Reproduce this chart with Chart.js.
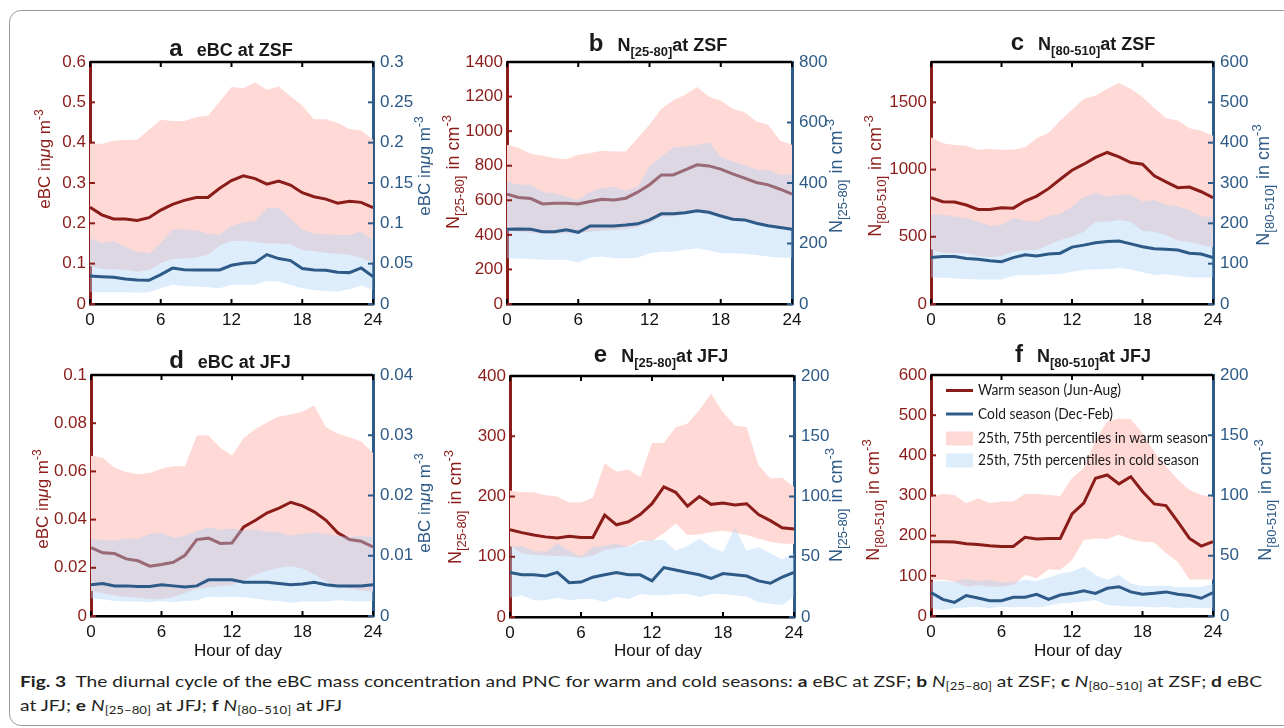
<!DOCTYPE html>
<html>
<head>
<meta charset="utf-8">
<script src="https://cdn.jsdelivr.net/npm/chart.js@4.4.1/dist/chart.umd.min.js"></script>
<style>
  html, body { margin:0; padding:0; background:#fff; }
  body { width:1284px; height:728px; position:relative; overflow:hidden; }
  .frame { position:absolute; left:9px; top:10px; width:1300px; height:714px; border:1.5px solid #9a9a9a; border-radius:12px; }
  canvas { position:absolute; }
  .cap { position:absolute; left:20px; white-space:nowrap; font-family:"Liberation Sans Narrow", Lato, sans-serif; font-size:16px; line-height:20px; color:#231f20; transform-origin:0 0; }
  .cap sub { font-size:11px; vertical-align:-3px; line-height:0; }
</style>
</head>
<body>
<div class="frame"></div>
<div class="cap" id="cap1" style="top:671px"><b>Fig. 3</b>&nbsp; The diurnal cycle of the eBC mass concentration and PNC for warm and cold seasons: <b>a</b> eBC at ZSF; <b>b</b> <i>N</i><sub>[25–80]</sub> at ZSF; <b>c</b> <i>N</i><sub>[80–510]</sub> at ZSF; <b>d</b> eBC</div>
<div class="cap" id="cap2" style="top:695px">at JFJ; <b>e</b> <i>N</i><sub>[25–80]</sub> at JFJ; <b>f</b> <i>N</i><sub>[80–510]</sub> at JFJ</div>
<script>
// hour of day (x axis)
const hours = [0,1,2,3,4,5,6,7,8,9,10,11,12,13,14,15,16,17,18,19,20,21,22,23,24];
const xTicks = [0,6,12,18,24];

// a  eBC at ZSF
const ebcZsfWarm    = [0.240,0.221,0.211,0.211,0.207,0.214,0.233,0.247,0.257,0.264,0.264,0.287,0.306,0.318,0.311,0.297,0.305,0.295,0.276,0.266,0.260,0.250,0.255,0.252,0.239];
const ebcZsfWarm75  = [0.399,0.397,0.405,0.407,0.407,0.432,0.457,0.454,0.454,0.463,0.467,0.502,0.538,0.535,0.550,0.531,0.539,0.515,0.492,0.458,0.458,0.449,0.434,0.430,0.407];
const ebcZsfWarm25  = [0.094,0.087,0.086,0.084,0.080,0.084,0.101,0.112,0.113,0.115,0.122,0.145,0.156,0.157,0.154,0.150,0.150,0.148,0.134,0.131,0.127,0.124,0.122,0.114,0.103];
const ebcZsfCold    = [0.0348,0.0339,0.0331,0.031,0.0298,0.0294,0.0365,0.0445,0.0426,0.0422,0.0422,0.0422,0.048,0.0505,0.0513,0.0612,0.0563,0.0538,0.0439,0.0422,0.0418,0.0393,0.0389,0.0447,0.0339];
const ebcZsfCold75  = [0.0815,0.0755,0.078,0.071,0.065,0.063,0.0755,0.0925,0.0925,0.091,0.0875,0.086,0.097,0.101,0.103,0.119,0.119,0.106,0.092,0.0875,0.0865,0.0855,0.0855,0.09,0.0795];
const ebcZsfCold25  = [0.0150,0.0145,0.0145,0.0145,0.014,0.0145,0.0194,0.0240,0.0223,0.0215,0.0207,0.0194,0.0240,0.0240,0.0240,0.0285,0.0280,0.0236,0.0194,0.0174,0.0161,0.0153,0.0182,0.0228,0.0174];
const ebcZsfTicksL  = [0,0.1,0.2,0.3,0.4,0.5,0.6];
const ebcZsfTicksR  = [0,0.05,0.1,0.15,0.2,0.25,0.3];

// b  N[25-80] at ZSF
const n25ZsfWarm    = [635,616,610,579,583,583,579,593,606,602,612,647,690,747,747,776,805,799,780,753,728,703,689,664,635];
const n25ZsfWarm75  = [921,902,869,857,844,838,863,873,886,882,882,960,1037,1130,1178,1211,1255,1201,1176,1130,1110,1056,1037,944,921];
const n25ZsfWarm25  = [424,418,412,405,407,409,409,418,424,428,432,445,467,505,506,520,528,520,505,490,482,467,458,444,432];
const n25ZsfCold    = [247,248,247,239,239,245,237,258,258,258,261,265,278,298,298,302,308,303,291,280,278,267,259,253,247];
const n25ZsfCold75  = [405,394,394,370,366,355,344,372,383,388,374,388,455,488,517,521,526,534,488,471,460,444,444,427,429];
const n25ZsfCold25  = [151,150,150,146,146,146,137,154,157,151,151,153,168,173,173,179,184,177,168,168,166,162,157,153,153];
const n25ZsfTicksL  = [0,200,400,600,800,1000,1200,1400];
const n25ZsfTicksR  = [0,200,400,600,800];

// c  N[80-510] at ZSF
const n80ZsfWarm    = [791,761,758,736,703,703,716,713,766,803,858,928,995,1040,1090,1127,1095,1052,1040,953,908,865,870,835,791];
const n80ZsfWarm75  = [1240,1195,1182,1177,1147,1152,1147,1147,1165,1232,1272,1364,1444,1526,1551,1601,1644,1601,1539,1457,1382,1364,1307,1289,1252];
const n80ZsfWarm25  = [407,382,377,377,357,347,357,389,402,402,439,476,501,538,612,612,625,612,545,538,513,471,463,439,422];
const n80ZsfCold    = [115,118,118,113,111,107,105,115,122,119,124,126,141,146,152,155,156,149,142,137,136,134,126,124,115];
const n80ZsfCold75  = [221,221,217,213,204,194,196,213,207,204,218,223,242,266,275,266,271,271,254,258,246,242,233,217,217];
const n80ZsfCold25  = [66,65,64,62,61,61,61,70,72,72,74,74,80,84,86,86,89,86,79,72,74,70,66,66,66];
const n80ZsfTicksL  = [0,500,1000,1500];
const n80ZsfTicksR  = [0,100,200,300,400,500,600];

// d  eBC at JFJ
const ebcJfjWarm    = [0.0284,0.0262,0.0259,0.0237,0.0229,0.0207,0.0214,0.0223,0.0252,0.0317,0.0323,0.0301,0.0303,0.037,0.0397,0.0428,0.0448,0.0472,0.0457,0.0432,0.0397,0.0345,0.0317,0.031,0.0287];
const ebcJfjWarm75  = [0.0665,0.0657,0.0615,0.0597,0.0588,0.0593,0.0611,0.0621,0.0621,0.0749,0.0749,0.0698,0.0666,0.0739,0.0777,0.0804,0.0828,0.0836,0.0848,0.0873,0.0783,0.0756,0.0742,0.0724,0.0676];
const ebcJfjWarm25  = [0.0105,0.0095,0.0085,0.008,0.0075,0.007,0.007,0.0078,0.0095,0.0112,0.0118,0.0123,0.0128,0.0148,0.0172,0.0188,0.02,0.0206,0.0197,0.0172,0.0143,0.0122,0.0114,0.0106,0.0102];
const ebcJfjCold    = [0.0052,0.0054,0.005,0.005,0.0049,0.0049,0.0052,0.005,0.0048,0.005,0.006,0.006,0.006,0.0056,0.0056,0.0056,0.0054,0.0052,0.0053,0.0056,0.0052,0.005,0.005,0.005,0.0052];
const ebcJfjCold75  = [0.0128,0.0126,0.0125,0.0129,0.0128,0.0136,0.0138,0.013,0.0133,0.0141,0.0147,0.0143,0.0145,0.0142,0.0144,0.014,0.0139,0.0133,0.0137,0.0139,0.0136,0.0133,0.0131,0.0133,0.0131];
const ebcJfjCold25  = [0.0029,0.0028,0.0025,0.0024,0.0024,0.0023,0.0025,0.0023,0.0025,0.0026,0.0032,0.0031,0.0032,0.0031,0.0029,0.0026,0.0025,0.0022,0.0024,0.0024,0.0024,0.0026,0.0025,0.0024,0.0025];
const ebcJfjTicksL  = [0,0.02,0.04,0.06,0.08,0.1];
const ebcJfjTicksR  = [0,0.01,0.02,0.03,0.04];

// e  N[25-80] at JFJ
const n25JfjWarm    = [145,140,136,133,131,134,132,132,169,153,158,170,188,216,207,184,200,187,189,186,188,170,160,148,146];
const n25JfjWarm75  = [210,207,207,202,200,190,190,198,255,241,245,232,289,289,315,321,343,371,340,318,315,252,230,231,216];
const n25JfjWarm25  = [118,106,103,102,101,101,98,102,111,114,117,127,126,139,155,136,137,141,143,140,136,130,125,122,121];
const n25JfjCold    = [37,35,35,34,37,28.5,29,33,35,37,35,35,30,41,39,37,35,32,36,35,34,30,28,33,37];
const n25JfjCold75  = [58,59,55,54,61,55,50,58,59,61,58,62,64,64,55,59,65,58,54,74,55,58,53,48,53];
const n25JfjCold25  = [16,18,14,14,16,14,15,15,12.5,16.6,15,19,18,18,19,19,16.6,19,19,18,17,12.5,11,10,16.6];
const n25JfjTicksL  = [0,100,200,300,400];
const n25JfjTicksR  = [0,50,100,150,200];

// f  N[80-510] at JFJ
const n80JfjWarm    = [185,185,184,180,178,175,173,173,196,192,193,193,254,281,343,351,329,347,310,279,275,235,193,174,185];
const n80JfjWarm75  = [297,304,301,281,293,281,285,285,304,304,301,299,343,368,438,484,492,490,455,409,372,340,314,301,297];
const n80JfjWarm25  = [90,90,85,73,77,73,73,77,102,94,116,115,139,189,193,192,202,191,185,183,156,135,91,91,91];
const n80JfjCold    = [19.4,13.8,11.3,17,15,12.7,12.7,15.5,15.5,18,13.8,17.4,18.8,21,18.8,23,24.3,20,18,18.8,20,18,17,14.7,19.4];
const n80JfjCold75  = [28.5,29,28.5,31,29,30,28,28.5,30,29,32,35,37,41,34,30,34,27,25,25,25,24,24,24,26.5];
const n80JfjCold25  = [6.4,5,6.4,7,7.7,6.4,7.7,7,7.7,7,8.6,10.5,11,12,13,9,8.6,7.7,7.7,7,7.7,6.4,7,6.4,7];
const n80JfjTicksL  = [0,100,200,300,400,500,600];
const n80JfjTicksR  = [0,50,100,150,200];

const RED = '#8a1c19', BLUE = '#2d5a86';
const PINK = 'rgb(255,217,214)', LBLUE = 'rgba(173,213,248,0.42)';
const SANS = '"Liberation Sans", Arial, Helvetica, sans-serif';
const fnt = (size, style) => (style ? style + ' ' : '') + size + 'px ' + SANS;

// rich text pieces (for sub/superscripts)
const ebcLabel = [{t:'eBC in', f:fnt(17)}, {t:'μ', f:fnt(17,'italic')}, {t:'g m', f:fnt(17)}, {t:'-3', f:fnt(12), dy:-7}];
const nLabel = r => [{t:'N', f:fnt(18)}, {t:'[' + r + ']', f:fnt(13), dy:5, gap:1}, {t:' in cm', f:fnt(18)}, {t:'-3', f:fnt(13), dy:-8}];
const ttl = (letter, parts) => [{t:letter, f:fnt(24,'bold'), gap:14}].concat(parts);
const plainT = s => [{t:s, f:fnt(18,'bold')}];
const subT = (r, site) => [{t:'N', f:fnt(18,'bold')}, {t:'[' + r + ']', f:fnt(13,'bold'), dy:5}, {t:'at ' + site, f:fnt(18,'bold')}];

function drawRich(ctx, parts, x, y, rot, color) {
  ctx.save();
  ctx.translate(x, y);
  if (rot) ctx.rotate(rot);
  let w = 0;
  parts.forEach(p => { ctx.font = p.f; w += ctx.measureText(p.t).width + (p.gap || 0); });
  let cx = -w / 2;
  ctx.fillStyle = color;
  ctx.textAlign = 'left';
  ctx.textBaseline = 'alphabetic';
  parts.forEach(p => {
    ctx.font = p.f;
    ctx.fillText(p.t, cx, p.dy || 0);
    cx += ctx.measureText(p.t).width + (p.gap || 0);
  });
  ctx.restore();
}

function drawLegend(ctx, chart, ox, oy) {
  const ds = chart.data.datasets;
  const rows = [
    {d:ds[2], line:true, y:390.5, w:143},
    {d:ds[5], line:true, y:414, w:135},
    {d:ds[0], line:false, y:438.5, w:230},
    {d:ds[3], line:false, y:460.5, w:221}
  ];
  rows.forEach(r => {
    const y = r.y - oy;
    if (r.line) {
      ctx.strokeStyle = r.d.borderColor; ctx.lineWidth = 3;
      ctx.beginPath(); ctx.moveTo(946 - ox, y); ctx.lineTo(973 - ox, y); ctx.stroke();
    } else {
      ctx.fillStyle = r.d.backgroundColor;
      ctx.fillRect(946 - ox, y - 7, 27, 14);
    }
    ctx.save();
    ctx.font = '14.5px Lato, "Open Sans", sans-serif';
    const m = ctx.measureText(r.d.label).width;
    ctx.translate(978 - ox, y);
    ctx.scale(r.w / m, 1);
    ctx.fillStyle = '#1a1a1a';
    ctx.textBaseline = 'middle';
    ctx.textAlign = 'left';
    ctx.fillText(r.d.label, 0, 0);
    ctx.restore();
  });
}

function deco(cfg, ox, oy) {
  return {
    id: 'deco_' + cfg.key,
    afterDraw(chart) {
      const ctx = chart.ctx, ca = chart.chartArea;
      const sx = chart.scales.x, yL = chart.scales.yL, yR = chart.scales.yR;
      const seg = (x1, y1, x2, y2) => { ctx.beginPath(); ctx.moveTo(x1, y1); ctx.lineTo(x2, y2); ctx.stroke(); };
      ctx.save();
      ctx.lineWidth = 2;
      ctx.strokeStyle = '#000';
      sx.ticks.forEach(t => { const p = sx.getPixelForValue(t.value); seg(p, ca.bottom, p, ca.bottom - 5); seg(p, ca.top, p, ca.top + 5); });
      ctx.strokeStyle = RED;
      yL.ticks.forEach(t => { const p = yL.getPixelForValue(t.value); seg(ca.left, p, ca.left + 5, p); });
      ctx.strokeStyle = BLUE;
      yR.ticks.forEach(t => { const p = yR.getPixelForValue(t.value); seg(ca.right, p, ca.right - 5, p); });
      // top edge of the box
      ctx.lineWidth = 2.5;
      ctx.strokeStyle = '#000';
      seg(ca.left, ca.top, ca.right, ca.top);

      drawRich(ctx, cfg.title, cfg.titlePos[0] - ox, cfg.titlePos[1] - oy, 0, '#1a1a1a');
      drawRich(ctx, cfg.leftLabel, cfg.leftPos[0] - ox, cfg.leftPos[1] - oy, -Math.PI / 2, RED);
      drawRich(ctx, cfg.rightLabel, cfg.rightPos[0] - ox, cfg.rightPos[1] - oy, -Math.PI / 2, BLUE);
      if (cfg.xlabel) {
        ctx.font = fnt(17);
        ctx.fillStyle = '#111';
        ctx.textAlign = 'center';
        ctx.textBaseline = 'alphabetic';
        ctx.fillText('Hour of day', (ca.left + ca.right) / 2 + 6, 656 - oy);
      }
      if (cfg.legend) drawLegend(ctx, chart, ox, oy);
      ctx.restore();
    }
  };
}

const fmt = v => String(parseFloat(Number(v).toFixed(4)));

function makePanel(cfg) {
  const [L, T, R, B] = cfg.plot;
  const ox = L - 90, oy = T - 62, w = R - L + 180, h = B - T + 122;
  const cv = document.createElement('canvas');
  cv.width = w; cv.height = h;
  cv.style.left = ox + 'px'; cv.style.top = oy + 'px';
  cv.style.width = w + 'px'; cv.style.height = h + 'px';
  document.body.appendChild(cv);

  const pts = arr => hours.map((hr, i) => ({x: hr, y: arr[i]}));
  const band = (label, arr, axis, order, fill, color) => ({
    label, data: pts(arr), yAxisID: axis, order,
    fill: fill ? '+1' : false,
    backgroundColor: color || 'transparent', borderColor: 'transparent', borderWidth: 0, pointRadius: 0
  });
  const yAxis = (pos, lim, ticks, color, pad) => ({
    position: pos, min: lim[0], max: lim[1], z: 1,
    afterBuildTicks: s => { s.ticks = ticks.map(v => ({value: v})); },
    afterFit: s => { s.width = 90; },
    grid: {display: false, drawTicks: false},
    border: {display: true, color: color, width: 3},
    ticks: {color: color, font: {family: SANS, size: 17}, padding: pad, callback: v => fmt(v)}
  });

  new Chart(cv, {
    type: 'line',
    data: {
      datasets: [
        band('25th, 75th percentiles in warm season', cfg.warm75, 'yL', 6, true, PINK),
        band('warm 25th', cfg.warm25, 'yL', 5, false),
        {label: 'Warm season (Jun-Aug)', data: pts(cfg.warm), yAxisID: 'yL', order: 4, fill: false,
         borderColor: RED, borderWidth: 3, pointRadius: 0},
        band('25th, 75th percentiles in cold season', cfg.cold75, 'yR', 3, true, LBLUE),
        band('cold 25th', cfg.cold25, 'yR', 2, false),
        {label: 'Cold season (Dec-Feb)', data: pts(cfg.cold), yAxisID: 'yR', order: 1, fill: false,
         borderColor: BLUE, borderWidth: 3, pointRadius: 0}
      ]
    },
    options: {
      responsive: false, animation: false, devicePixelRatio: 1, events: [],
      layout: {padding: {top: 62, left: 0, right: 0, bottom: 0}},
      plugins: {legend: {display: false}, tooltip: {enabled: false}},
      scales: {
        x: {
          type: 'linear', min: 0, max: 24, z: 1,
          afterBuildTicks: s => { s.ticks = xTicks.map(v => ({value: v})); },
          afterFit: s => { s.height = 60; },
          grid: {display: false, drawTicks: false},
          border: {display: true, color: '#000', width: 2.5},
          ticks: {color: '#111', font: {family: SANS, size: 17}, padding: 6, maxRotation: 0, autoSkip: false}
        },
        yL: yAxis('left', cfg.limL, cfg.ticksL, RED, 4),
        yR: yAxis('right', cfg.limR, cfg.ticksR, BLUE, 7)
      }
    },
    plugins: [deco(cfg, ox, oy)]
  });
}

const panels = [
  {key:'a', plot:[90,62,373,304], limL:[0,0.6], limR:[0,0.3], ticksL:ebcZsfTicksL, ticksR:ebcZsfTicksR,
   warm:ebcZsfWarm, warm75:ebcZsfWarm75, warm25:ebcZsfWarm25, cold:ebcZsfCold, cold75:ebcZsfCold75, cold25:ebcZsfCold25,
   title:ttl('a', plainT('eBC at ZSF')), titlePos:[231,56], leftLabel:ebcLabel, leftPos:[50,159], rightLabel:ebcLabel, rightPos:[430,166]},
  {key:'b', plot:[507,62,792,304], limL:[0,1400], limR:[0,800], ticksL:n25ZsfTicksL, ticksR:n25ZsfTicksR,
   warm:n25ZsfWarm, warm75:n25ZsfWarm75, warm25:n25ZsfWarm25, cold:n25ZsfCold, cold75:n25ZsfCold75, cold25:n25ZsfCold25,
   title:ttl('b', subT('25-80','ZSF')), titlePos:[658,51], leftLabel:nLabel('25-80'), leftPos:[459,172], rightLabel:nLabel('25-80'), rightPos:[842,176]},
  {key:'c', plot:[931,62,1213,304], limL:[0,1800], limR:[0,600], ticksL:n80ZsfTicksL, ticksR:n80ZsfTicksR,
   warm:n80ZsfWarm, warm75:n80ZsfWarm75, warm25:n80ZsfWarm25, cold:n80ZsfCold, cold75:n80ZsfCold75, cold25:n80ZsfCold25,
   title:ttl('c', subT('80-510','ZSF')), titlePos:[1083,50], leftLabel:nLabel('80-510'), leftPos:[881,176], rightLabel:nLabel('80-510'), rightPos:[1269,185]},
  {key:'d', plot:[91,375,373,616], limL:[0,0.1], limR:[0,0.04], ticksL:ebcJfjTicksL, ticksR:ebcJfjTicksR,
   warm:ebcJfjWarm, warm75:ebcJfjWarm75, warm25:ebcJfjWarm25, cold:ebcJfjCold, cold75:ebcJfjCold75, cold25:ebcJfjCold25,
   title:ttl('d', plainT('eBC at JFJ')), titlePos:[230,368], leftLabel:ebcLabel, leftPos:[48,499], rightLabel:ebcLabel, rightPos:[430,503], xlabel:true},
  {key:'e', plot:[510,376,794,617], limL:[0,400], limR:[0,200], ticksL:n25JfjTicksL, ticksR:n25JfjTicksR,
   warm:n25JfjWarm, warm75:n25JfjWarm75, warm25:n25JfjWarm25, cold:n25JfjCold, cold75:n25JfjCold75, cold25:n25JfjCold25,
   title:ttl('e', subT('25-80','JFJ')), titlePos:[661,362], leftLabel:nLabel('25-80'), leftPos:[461,507], rightLabel:nLabel('25-80'), rightPos:[842,505], xlabel:true},
  {key:'f', plot:[931,375,1213,616], limL:[0,600], limR:[0,200], ticksL:n80JfjTicksL, ticksR:n80JfjTicksR,
   warm:n80JfjWarm, warm75:n80JfjWarm75, warm25:n80JfjWarm25, cold:n80JfjCold, cold75:n80JfjCold75, cold25:n80JfjCold25,
   title:ttl('f', subT('80-510','JFJ')), titlePos:[1083,362], leftLabel:nLabel('80-510'), leftPos:[879,500], rightLabel:nLabel('80-510'), rightPos:[1271,500], xlabel:true, legend:true}
];

panels.forEach(makePanel);

// fit caption lines to the reference line length
const cap1 = document.getElementById('cap1'), cap2 = document.getElementById('cap2');
const k = 1242 / cap1.getBoundingClientRect().width;
cap1.style.transform = 'scaleX(' + k + ')';
cap2.style.transform = 'scaleX(' + k + ')';
</script>
</body>
</html>
